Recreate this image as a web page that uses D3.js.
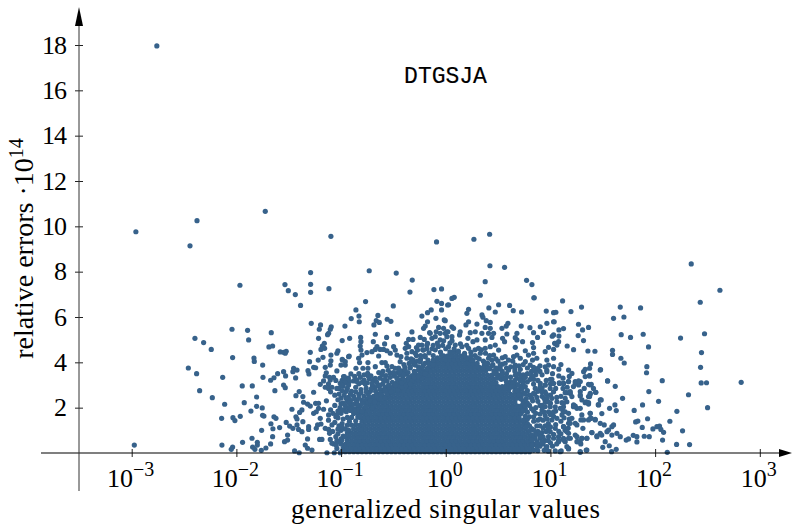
<!DOCTYPE html>
<html>
<head>
<meta charset="utf-8">
<script src="https://cdn.jsdelivr.net/npm/d3@7"></script>
<style>
body { margin: 0; background: #fff; }
text { font-family: "Liberation Serif", serif; fill: #000; }
</style>
</head>
<body>
<svg id="chart" width="792" height="525"></svg>
<script>
"use strict";

// all points are [log10(singular value), relative error * 1e14]
const outliers = [[-2.76,17.96],[-2.96,9.76],[-2.376,10.25],[-2.443,9.14],[-1.724,10.66],[-1.097,9.56],[-.088,9.31],[.269,9.43],[.419,9.65],[-1.291,7.96],[-.731,8.04],[-.473,7.94],[.422,8.26],[.562,8.19],[-1.536,7.43],[-1.504,7.16],[-1.291,7.44],[-1.291,7.09],[-1.437,6.99],[-1.116,7.25],[-.32,7.63],[.377,7.56],[.772,7.62],[-.113,7.21],[-.04,7.24],[2.345,8.34],[2.619,7.18],[2.431,6.65]];

const leftPoints = [[-2.975,.35],[-1.966,7.4],[-2.042,5.46],[-1.893,5.41],[-1.667,5.31],[-2.396,5.06],[-2.313,4.87],[-1.883,4.99],[-2.24,4.57],[-1.689,4.68],[-1.654,4.72],[-1.581,4.46],[-2.036,4.21],[-1.832,4.19],[-1.829,4.04],[-1.749,3.88],[-2.459,3.75],[-2.38,3.5],[-2.131,3.34],[-1.746,3.34],[-1.673,3.21],[-1.641,3.32],[-1.606,3.5],[-1.944,2.96],[-1.848,2.96],[-2.351,2.75],[-1.632,2.75],[-2.23,2.44],[-1.807,2.47],[-1.925,2.22],[-2.112,2.15],[-1.807,2.06],[-1.753,1.99],[-1.861,1.85],[-2.141,1.53],[-2.033,1.56],[-2.014,1.43],[-1.963,1.62],[-1.75,1.66],[-1.737,1.63],[-1.641,1.6],[-1.622,1.53],[-1.67,1.29],[-1.651,1.07],[-1.759,1],[-1.587,1.12],[-1.654,.72],[-1.851,.65],[-1.941,.47],[-1.8,.47],[-1.8,.35],[-2.138,.35],[-2.036,.26],[-2.049,.16],[-1.845,.26],[-1.823,.16],[-1.762,.12],[-1.718,.22],[-1.673,.4]];

const midLeftPoints = [[-1.387,6.51],[-1.285,5.72],[-1.196,5.65],[-1.208,5.46],[-1.094,5.57],[-1.103,5.46],[-1.119,5.28],[-1.129,5.22],[-.963,5.6],[-1.215,5.06],[-.989,4.96],[-.918,5.06],[-1.16,4.84],[-1.179,4.72],[-1.192,4.57],[-1.157,4.62],[-1.03,4.51],[-1.04,4.4],[-1.549,4.44],[-1.524,4.49],[-1.533,4.4],[-1.294,4.44],[-.928,4.25],[-1.173,4.22],[-1.218,4.1],[-1.301,4.03],[-1.097,4.32],[-1.097,4.07],[-.985,4.1],[-1.001,3.88],[-.96,3.88],[-1.103,3.88],[-1.262,3.78],[-1.243,3.76],[-1.151,3.78],[-1.453,3.74],[-1.421,3.66],[-1.46,3.59],[-1.316,3.63],[-1.307,3.49],[-1.549,3.59],[-1.53,3.4],[-1.434,3.31],[-1.141,3.54],[-1.04,3.62],[-1.072,3.34],[-1.11,3.34],[-1.151,3.4],[-.969,3.37],[-1.167,3.18],[-1.199,3.03],[-1.103,3.22],[-1.008,3.07],[-.96,3.1],[-1.151,2.9],[-1.119,2.85],[-1.087,2.9],[-1.04,2.85],[-.992,3],[-1.549,3],[-1.533,2.88],[-1.262,2.68],[-1.4,2.71],[-1.431,2.53],[-1.365,2.49],[-1.358,2.24],[-1.32,2.16],[-1.294,2.07],[-1.243,2.19],[-1.215,2.19],[-1.215,1.97],[-1.262,1.75],[-1.237,1.82],[-1.167,1.93],[-1.374,1.9],[-1.396,1.79],[-1.469,1.93],[-1.431,1.6],[-1.421,1.5],[-1.199,1.53],[-1.119,1.68],[-1.078,1.75],[-1.04,1.68],[-1.524,1.35],[-1.491,1.19],[-1.46,1.09],[-1.421,1.24],[-1.406,1.04],[-1.374,.94],[-1.365,1.38],[-1.31,1.16],[-1.31,1.04],[-1.237,1.09],[-1.224,1.24],[-1.192,1.28],[-1.151,1.09],[-1.119,1.04],[-1.11,.87],[-1.087,1.24],[-.992,1.16],[-.928,1.01],[-1.511,.79],[-1.54,.5],[-1.511,.57],[-1.32,.62],[-1.342,.35],[-1.32,.21],[-1.278,.13],[-1.444,.09],[-1.4,.01],[-1.205,.6],[-1.183,.6],[-1.103,.6],[-1.087,.43],[-1.046,.35],[-1.024,.5],[-.992,.57],[-.96,.72],[-1.135,.01],[-1.065,.01],[-1.008,.01]];

const domeLeftPoints = [[-.342,7.1],[-.766,6.68],[-.501,6.49],[-.858,6.31],[-.829,6.04],[-.903,5.93],[-.826,5.79],[-.648,6.07],[-.664,5.84],[-.686,5.65],[-.635,5.76],[-.559,5.9],[-.524,5.81],[-.673,5.24],[-.46,5.24],[-.323,5.34],[-.565,5.1],[-.228,6.04],[-.174,6.19],[-.139,6.31],[-.094,5.94],[-.084,6.69],[-.04,6.6],[.018,6.53],[-.04,6.31],[-.014,5.87],[-.174,5.79],[-.196,5.6],[-.212,5.5],[-.068,5.54],[-.091,5.35],[-.154,5.31],[-.021,5.5],[.011,5.35],[-.053,5.28],[-.813,5.1],[-.81,4.91],[-.817,4.72],[-.81,4.54],[-.692,4.91],[-.584,4.81],[-.498,4.69],[-.482,4.54],[-.354,5.01],[-.313,5.01],[-.377,4.84],[-.387,4.62],[-.243,5.1],[-.205,5.01],[-.174,4.84],[-.148,5.28],[-.26,4.76],[-.132,5.06],[-.1,5.13],[-.053,4.99],[.011,5.13],[-.354,4.69],[-.323,4.47],[-.291,4.4],[-.269,4.54],[-.371,4.4],[-.228,4.76],[-.212,4.54],[-.657,4.69],[-.626,4.57],[-.594,4.57],[-.562,4.51],[-.53,4.4],[-.466,4.32],[-.428,4.25],[-.673,4.57],[-.705,4.47],[-.753,4.43],[-.8,4.32],[-.832,4.18],[-.641,4.28],[-.922,4.28],[-.989,4.13],[-.96,4.03],[-.823,3.99],[-.743,3.99],[-.61,3.99],[-.578,3.99],[-.562,3.84],[-.514,3.81],[-.435,4.03],[-.323,4.03],[-.371,4.18],[-.858,3.74],[-.791,3.74],[-.743,3.74],[-.673,3.81],[-.906,3.49],[-.976,3.37],[-.746,3.51],[-.816,3.34],[-.715,3.4],[-.673,3.29],[-.61,3.44],[-.482,3.74],[-.435,3.59],[-.387,3.66],[-.339,3.81],[-.291,3.88],[-.243,4.03],[-.769,3.04],[-.848,3.15],[-.928,3],[-.594,3.22],[-.53,3.34],[-.466,3.29],[-.403,3.44],[-.355,3.34],[-.705,3.07],[-.626,3],[-.546,3],[-.482,3],[-.419,3.1],[-.339,3.04],[-.26,3.66],[-.218,3.84],[-.196,4.25]];

const domeRightPoints = [[.081,6.87],[.059,6.82],[.33,6.96],[.027,6.54],[.845,6.85],[.412,6.4],[.505,6.54],[.61,6.51],[.645,6.28],[.473,6.22],[.724,6.22],[.96,6.26],[.218,6.34],[.202,6.16],[.346,6.09],[.355,5.99],[-.005,5.84],[.387,5.84],[.425,5.76],[1.03,6.19],[.966,5.72],[1.03,5.79],[.218,5.79],[.193,5.65],[.298,5.69],[.059,5.57],[.075,5.5],[.594,5.72],[.578,5.6],[.721,5.6],[.804,5.53],[.903,5.57],[.377,5.54],[.425,5.5],[.537,5.5],[.138,5.35],[.132,5.21],[.021,5.35],[-.005,5.28],[.234,5.31],[.282,5.35],[.345,5.28],[.409,5.28],[.457,5.28],[.584,5.25],[.68,5.28],[.839,5.31],[.934,5.32],[.441,5.1],[.543,5.06],[.664,5.09],[.877,5.1],[1.03,5.21],[.562,4.91],[.68,4.99],[.734,4.91],[.212,5.06],[.059,5.13],[.298,4.99],[.377,4.99],[.26,4.91],[.829,4.87],[1.04,4.84],[.664,4.66],[.473,4.76],[.982,4.66],[1.03,4.57],[.839,4.65],[.76,4.51],[.95,4.47],[.839,4.4],[.79,4.32],[.68,4.32],[.648,4.25],[.568,4.25],[.505,4.54],[.425,4.69],[.377,4.62],[.313,4.62],[.218,4.62],[.154,4.69],[.091,4.76],[.027,4.69],[.457,4.32],[.409,4.18],[.52,3.88],[.568,3.96],[.712,4.18],[.76,4.03],[.829,4.1],[.87,4.18],[.966,4.1],[1.03,4.18],[.982,3.88],[1.03,3.81],[.807,3.88],[.839,3.78],[.88,3.74],[.664,3.88],[.712,3.69],[.6,3.66],[.966,3.59],[.76,3.34],[.712,3.19],[.807,3.25],[.839,3.04],[.693,3],[.95,3],[1,3.25],[1.03,3.07],[.903,2.93],[.632,2.93],[.568,2.85],[.76,2.93],[.664,3.44],[.537,3.44],[.473,3.51]];

const flankRightPoints = [[.965,3.66],[1.014,3.25],[1.087,3.07],[1.125,3.07],[1.173,3.15],[1.205,3.51],[1.173,3.66],[1.317,3.59],[1.374,3.4],[1.476,3.66],[1.285,3.15],[1.269,3],[1.237,3.07],[1.22,2.93],[1.38,3],[1.411,2.85],[1.546,3.18],[1.157,2.66],[1.19,2.63],[1.205,2.49],[1.141,2.41],[1.285,2.71],[1.285,2.51],[1.38,2.6],[1.434,2.68],[1.364,2.49],[1.476,2.34],[1.46,2.12],[1.342,2.26],[1.364,2.16],[1.22,2.04],[1.253,1.97],[1.285,1.97],[1.125,2.04],[1.03,2.7],[.998,2.85],[.95,3],[.903,3.07],[.855,2.85],[.839,2.63],[.918,2.7],[.966,2.41],[1.014,2.41],[1.062,2.26],[1.11,2.22],[.998,2.04],[.982,1.82],[1.046,2.04],[1.03,1.82],[1.094,1.97],[1.141,1.82],[1.173,1.75],[1.11,1.68],[1.062,1.53],[1.014,1.46],[1.205,1.53],[1.38,1.75],[1.38,1.53],[1.428,1.46],[1.565,1.97],[1.3,1.68],[1.316,1.46],[1.253,1.24],[1.173,1.31],[1.125,1.16],[1.046,1.09],[.998,.94],[.982,.72],[1.03,.65],[1.078,.72],[1.078,.5],[1.125,.65],[1.173,.87],[1.19,.65],[1.237,.79],[1.3,.65],[1.348,.65],[1.396,.9],[1.444,.76],[1.49,.79],[1.26,.5],[1.29,.4],[1.141,.5],[1.173,.18],[1.103,.09],[1.046,.09],[.966,.28],[.918,.5],[.903,.72],[.871,.28],[.824,.35],[1.285,.06],[1.348,.13]];

const rightPoints = [[1.861,6.4],[1.667,6.44],[1.297,6.44],[1.116,6.71],[.823,7.43],[.842,6.85],[1.052,6.21],[1.196,6.24],[1.603,5.94],[1.702,6],[1.268,5.68],[1.036,5.79],[1.307,5.43],[1.364,5.54],[1.125,5.49],[1.081,5.43],[1.017,5.15],[1.081,5.16],[1.265,5.18],[1.316,4.96],[1.676,5.22],[1.765,5.1],[1.886,5.24],[2.243,5.07],[2.472,5.26],[1.937,4.68],[1.16,4.72],[1.078,4.91],[1.046,4.84],[1.062,4.76],[1.221,4.56],[1.358,4.5],[1.425,4.49],[1.593,4.53],[1.593,4.35],[2.443,4.43],[1.673,4.18],[1.705,3.97],[1.921,3.81],[1.918,3.54],[2.434,3.78],[2.068,3.19],[2.44,3.09],[2.491,3.1],[2.822,3.12],[1.546,3.18],[1.619,2.94],[1.94,2.71],[1.689,2.41],[2.319,2.57],[2.033,2.28],[1.88,2.12],[1.616,2.12],[1.629,1.87],[1.8,1.88],[2.501,2],[2.208,1.84],[1.491,1.74],[1.485,2.34],[1.457,2.13],[1.431,2.68],[1.479,3.68],[1.383,3.93],[1.374,3.74],[1.332,3.69],[1.374,3.41],[1.332,3.37],[1.39,3.03],[1.364,3.03],[1.323,2.85],[1.269,3.18],[1.237,3.15],[1.173,3.15],[1.125,3.07],[1.084,3.1],[1.38,2.63],[1.374,2.49],[1.285,2.56],[1.189,2.71],[1.141,2.66],[1.332,2.22],[1.364,2.22],[1.301,2.34],[1.237,2.07],[1.221,2.12],[1.157,2.26],[1.125,2.19],[1.38,1.75],[1.39,1.53],[1.428,1.49],[1.364,1.46],[1.476,1.31],[1.514,1.24],[1.555,1.01],[1.587,1.16],[1.603,1.24],[1.54,.94],[1.635,.87],[1.667,.72],[1.587,.79],[1.476,.87],[1.444,.72],[1.396,.9],[1.348,.65],[1.301,.65],[1.285,.5],[1.253,.5],[1.253,.72],[1.173,.65],[1.157,.94],[1.125,.57],[1.078,.57],[1.31,1.09],[1.291,1.46],[1.237,1.31],[1.189,1.31],[1.125,1.16],[1.523,.5],[1.5,.25],[1.562,.32],[1.628,.16],[1.584,.06],[1.342,.13],[1.285,.03],[1.173,.2],[1.157,.28],[1.093,.06],[1.724,.57],[1.746,.62],[1.791,.78],[1.826,.72],[1.826,.49],[1.877,1.13],[1.814,1.37],[1.835,1.41],[1.928,1.51],[1.896,.74],[1.944,.72],[1.979,1.06],[2.017,1.16],[2.042,1.19],[2.055,1.04],[2.081,.91],[2.141,1.4],[2.071,.57],[2.262,.98],[2.205,.38],[2.329,.37],[2.116,.03]];

// Clumped edge of the cloud: points overlap a lot here, so these are estimates of
// where the clumps lie rather than clean readings.
const shellLeft = [[-.99,3.2],[-.93,3.3],[-.88,3.18],[-.83,3.05],[-.78,3.22],[-.73,3.28],[-.66,3.12],[-.6,3.05],[-.56,3.18],[-.51,3.12],[-.44,3.22],[-.38,3.2],[-.98,2.95],[-.94,2.85],[-.9,2.72],[-.86,2.9],[-.81,2.8],[-.76,2.86],[-.72,2.72],[-.68,2.88],[-.63,2.82],[-.58,2.9],[-.54,2.85],[-.46,2.9],[-.4,2.85],[-1.02,2.6],[-.97,2.55],[-.93,2.45],[-.88,2.5],[-.83,2.58],[-.78,2.5],[-.74,2.6],[-.69,2.5],[-.65,2.6],[-.6,2.5],[-1.03,2.35],[-.98,2.2],[-.94,2.28],[-.9,2.12],[-.85,2.28],[-.8,2.32],[-.75,2.38],[-.7,2.3],[-.66,2.2],[-1.06,2.1],[-1.01,2],[-.97,1.92],[-.93,2],[-.88,1.95],[-.82,2.05],[-.78,1.98],[-.72,2.12],[-1.05,1.6],[-1,1.75],[-.98,1.5],[-.99,1.3],[-1.02,1.2],[-1,1],[-1.03,.85],[-.98,.75],[-1.05,.72],[-1,.4],[-1.04,.2],[-.99,.08],[-1.08,.95],[-1.12,1.45],[-1.1,1.9],[-1.14,2.3],[-1.06,2.55],[-1.1,2.7],[-1.02,2.85],[-1.05,3.2],[-1.12,3.05],
[-.42,3.62],[-.39,3.78],[-.35,3.95],[-.31,4.1],[-.27,4.05],[-.24,3.72],[-.29,3.48],[-.34,3.32],[-.38,3.5],[-.41,3.35],[-.46,3.55],[-.49,3.4],[-.53,3.52],[-.57,3.42],[-.6,3.6],[-.64,3.55],[-.58,3.25],[-.63,3.3],[-.69,3.2],[-.74,3.4],[-.78,3.45],[-.83,3.5],[-.87,3.38],[-.92,3.15],[-.96,3.25],[-.85,3.22],[-.8,3.12],[-.75,3.1],[-.7,2.98],[-.65,2.98],[-.59,2.72],[-.55,2.68],[-.5,2.78],[-.47,3.1],[-.43,3.05],[-.36,3.05],[-.33,3.18],[-.3,3.25],[-.26,3.2],[-.23,3.3],[-.56,2.52],[-.62,2.66],[-.67,2.72],[-.71,2.84],[-.76,2.7],[-.81,2.65],[-.86,2.7],[-.91,2.6],[-.95,2.72],[-.99,2.75],[-1,2.42],[-.95,2.4],[-.91,2.32],[-.87,2.38],[-.83,2.42],[-.78,2.28],[-.73,2.46],[-.68,2.4],[-.64,2.4],[-.92,2.2],[-.96,2.1],[-1,2.18],[-.88,2.15],[-.84,2.12],[-.8,2.18],[-.74,2.2],[-.95,1.82],[-.91,1.88],[-.87,1.85],[-.83,1.9],[-.99,1.88],[-1.03,1.85],[-1.03,1.55],[-1.06,1.35],[-1.03,1.05],[-1,.62],[-1.04,.55],[-1.07,.4]];
const shellTop = [[-.36,3.55],[-.32,3.42],[-.3,3.6],[-.27,3.35],[-.24,3.5],[-.34,3.75],[-.3,3.92],[-.26,3.8],[-.22,3.65],[-.2,3.95],[-.17,4.1],[-.15,3.85],[-.24,4.15],[-.2,4.3],[-.16,4.42],[-.12,4.3],[-.1,4.55],[-.07,4.7],[-.13,4.6],[-.18,4.6],[-.03,4.75],[0,4.6],[-.05,4.45],[-.28,4.3],[-.33,4.15],[-.4,3.9],[-.45,3.75],[-.5,3.55],[-.44,3.45],[-.55,3.65],[.04,4.85],[.08,4.6],[.12,4.5],[.18,4.4],[.24,4.45],[.28,4.3],[.33,4.4],[.2,4.2],[.26,4.1],[.32,4.15],[.36,4.05],[.4,3.95],[.45,3.9],[.44,4.1],[.5,4.05],[.37,3.9],[.5,3.7],[.54,3.6],[.48,3.55],[.58,3.5],[.62,3.35],[.66,3.62],[.57,3.25],[.62,3.15],[.68,3.02],[.72,2.95],
[-.08,4.85],[-.02,4.95],[.06,4.95],[.14,4.82],[.2,4.75],[.28,4.55],[.34,4.55],[.38,4.4],[.42,4.3],[.48,4.15],[.54,4.2],[.6,4.1],[.64,4.05],[-.12,4.75],[-.18,4.75],[-.22,4.55],[-.28,4.65],[-.24,4.3]];
const shellRight = [[.74,3.1],[.78,3.14],[.84,3.25],[.86,3.45],[.9,3.6],[.88,3.2],[.78,2.75],[.74,2.65],[.8,2.55],[.77,2.4],[.83,2.3],[.87,2.45],[.92,2.5],[.95,2.25],[.9,2.1],[.86,2],[.8,2.1],[.76,1.95],[.78,1.8],[.84,1.85],[.92,1.9],[.95,1.65],[.9,1.5],[.84,1.4],[.87,1.2],[.93,1.1],[.98,1.3],[.82,1.08],[.78,1.3],[.92,.9],[.88,.95],[.95,.55],[.85,.65],[.87,.5],[.84,.12],[.88,.1],[.9,.3],[.94,.12],[.98,.08],[1.02,.3],[1.06,.4],[1,.45],[1.03,.82],[1.1,.85],[1.14,1],[1.08,.95],[1.17,1.1],[1,1.15],[1.05,1.25],[.97,1.5],[1.1,1.4],[1.03,1.62],[1.18,1.5],[1.13,1.55],[1,1.7],[1.05,1.85],[1.12,1.85],[1,2.2],[1.06,2.45],[1.1,2.5],[1,2.55],[.95,2.7],[1.05,2.85],[1.12,2.85],[1.16,2.9],[.9,2.85],[1,3.05],[.96,3.2],[1.08,3.4],[1.12,3.3],[1.18,3.38],[1.02,3.5],[1.08,3.7],[.92,3.45],[.95,3.8],[1.1,3.9],[.9,3.85],
[.4,3.75],[.44,3.85],[.48,3.75],[.52,3.75],[.36,3.75],[.54,3.92],[.58,3.75],[.62,3.8],[.66,3.75],[.7,3.85],[.74,3.9],[.78,3.75],[.82,3.6],[.86,3.62],[.7,3.5],[.74,3.45],[.78,3.5],[.82,3.42],[.58,3.35],[.53,3.25],[.49,3.3],[.68,3.3],[.72,3.35],[.66,3.2],[.74,3.25],[.6,3.05],[.64,3.05],[.58,3],[.66,2.88],[.7,2.8],[.73,2.85],[.76,2.6],[.7,2.65],[.72,2.5],[.78,2.2],[.75,2.3],[.82,2.42],[.85,2.6],[.88,2.72],[.92,2.85],[.96,2.6],[.94,2.4],[.98,2.25],[.88,2.28],[.92,2.1],[.95,2.05],[.82,1.95],[.86,1.75],[.9,1.72],[.94,1.8],[.8,1.6],[.84,1.6],[.88,1.45],[.93,1.45],[.78,1.5],[.8,1.2],[.84,1.02],[.9,1.2],[.95,1.2],[.98,1.12],[.96,.95],[.9,.85],[.86,.8],[.9,.65],[.93,.7],[.98,.55],[.88,.4],[.93,.4],[.96,.25]];
const shellEdge = [[-.86,1.42],[-.84,1.6],[-.86,1.25],[-.8,1.75],[-.82,1.62],[-.74,1.9],[-.8,1.85],[-.76,2.05],[-.68,2.08],[-.7,1.98],[-.72,2.3],[-.68,2.25],[-.62,2.4],[-.66,2.5],[-.58,2.42],[-.62,2.58],[-.56,2.62],[-.58,2.76],[-.52,2.7],[-.54,2.92],[-.46,2.78],[-.44,2.95],[-.48,2.98],[-.42,2.92],[-.38,2.98],[-.36,3.12],[-.4,3.2],[-.32,3.18],[-.3,3.35],[-.26,3.38],[-.24,3.6],[-.2,3.5],[-.18,3.72],[-.16,3.95],[-.12,3.9],[-.12,4.1],[-.08,4.2],[-.04,4.3],[.38,3.98],[.42,3.72],[.46,3.62],[.5,3.45],[.53,3.4],[.56,3.3],[.58,3.15],[.6,2.95],[.62,2.9],[.66,2.72],[.68,2.78],[.7,2.55],[.72,2.38],[.74,2.15],[.76,2.08],[.74,1.85],[.76,1.62],[.74,1.45],[.77,1.15],[.8,.98],[.82,.8],[.84,.65],[.82,.58],[.3,4.2],[.24,4.28],[.18,4.3]];

// The middle of the cloud is solid colour, so single points cannot be told apart
// there. These rows are estimates that cover the solid area, not individual readings.
const coreErrors = [.06,.22,.38,.55,.72,.89,1.06,1.23,1.4,1.57,1.74,1.91,2.08,2.25,2.42,2.59,2.76,2.93,3.1,3.27,3.44,3.61,3.78,3.95,4.12,4.29,4.46];
const coreExponents = [
[-.96,-.92,-.88,-.84,-.8,-.76,-.72,-.68,-.64,-.6,-.56,-.52,-.48,-.44,-.4,-.36,-.32,-.28,-.24,-.2,-.16,-.12,-.08,-.04,0,.04,.08,.12,.16,.2,.24,.28,.32,.36,.4,.44,.48,.52,.56,.6,.64,.68,.72,.76,.8],
[-.98,-.94,-.9,-.86,-.82,-.78,-.74,-.7,-.66,-.62,-.58,-.54,-.5,-.46,-.42,-.38,-.34,-.3,-.26,-.22,-.18,-.14,-.1,-.06,-.02,.02,.06,.1,.14,.18,.22,.26,.3,.34,.38,.42,.46,.5,.54,.58,.62,.66,.7,.74,.78,.82],
[-.96,-.92,-.88,-.84,-.8,-.76,-.72,-.68,-.64,-.6,-.56,-.52,-.48,-.44,-.4,-.36,-.32,-.28,-.24,-.2,-.16,-.12,-.08,-.04,0,.04,.08,.12,.16,.2,.24,.28,.32,.36,.4,.44,.48,.52,.56,.6,.64,.68,.72,.76,.8,.84],
[-.94,-.9,-.86,-.82,-.78,-.74,-.7,-.66,-.62,-.58,-.54,-.5,-.46,-.42,-.38,-.34,-.3,-.26,-.22,-.18,-.14,-.1,-.06,-.02,.02,.06,.1,.14,.18,.22,.26,.3,.34,.38,.42,.46,.5,.54,.58,.62,.66,.7,.74,.78,.82],
[-.92,-.88,-.84,-.8,-.76,-.72,-.68,-.64,-.6,-.56,-.52,-.48,-.44,-.4,-.36,-.32,-.28,-.24,-.2,-.16,-.12,-.08,-.04,0,.04,.08,.12,.16,.2,.24,.28,.32,.36,.4,.44,.48,.52,.56,.6,.64,.68,.72,.76,.8],
[-.94,-.9,-.86,-.82,-.78,-.74,-.7,-.66,-.62,-.58,-.54,-.5,-.46,-.42,-.38,-.34,-.3,-.26,-.22,-.18,-.14,-.1,-.06,-.02,.02,.06,.1,.14,.18,.22,.26,.3,.34,.38,.42,.46,.5,.54,.58,.62,.66,.7,.74,.78,.86],
[-.96,-.88,-.84,-.8,-.76,-.72,-.68,-.64,-.6,-.56,-.52,-.48,-.44,-.4,-.36,-.32,-.28,-.24,-.2,-.16,-.12,-.08,-.04,0,.04,.08,.12,.16,.2,.24,.28,.32,.36,.4,.44,.48,.52,.56,.6,.64,.68,.72,.76],
[-.94,-.9,-.82,-.78,-.74,-.7,-.66,-.62,-.58,-.54,-.5,-.46,-.42,-.38,-.34,-.3,-.26,-.22,-.18,-.14,-.1,-.06,-.02,.02,.06,.1,.14,.18,.22,.26,.3,.34,.38,.42,.46,.5,.54,.58,.62,.66,.7,.74],
[-.92,-.8,-.76,-.72,-.68,-.64,-.6,-.56,-.52,-.48,-.44,-.4,-.36,-.32,-.28,-.24,-.2,-.16,-.12,-.08,-.04,0,.04,.08,.12,.16,.2,.24,.28,.32,.36,.4,.44,.48,.52,.56,.6,.64,.68,.72,.76],
[-.94,-.9,-.82,-.78,-.74,-.7,-.66,-.62,-.58,-.54,-.5,-.46,-.42,-.38,-.34,-.3,-.26,-.22,-.18,-.14,-.1,-.06,-.02,.02,.06,.1,.14,.18,.22,.26,.3,.34,.38,.42,.46,.5,.54,.58,.62,.66,.7],
[-.88,-.84,-.76,-.72,-.68,-.64,-.6,-.56,-.52,-.48,-.44,-.4,-.36,-.32,-.28,-.24,-.2,-.16,-.12,-.08,-.04,0,.04,.08,.12,.16,.2,.24,.28,.32,.36,.4,.44,.48,.52,.56,.6,.64,.68,.72],
[-.9,-.86,-.78,-.7,-.66,-.62,-.58,-.54,-.5,-.46,-.42,-.38,-.34,-.3,-.26,-.22,-.18,-.14,-.1,-.06,-.02,.02,.06,.1,.14,.18,.22,.26,.3,.34,.38,.42,.46,.5,.54,.58,.62,.66,.7,.74],
[-.84,-.76,-.72,-.64,-.6,-.56,-.52,-.48,-.44,-.4,-.36,-.32,-.28,-.24,-.2,-.16,-.12,-.08,-.04,0,.04,.08,.12,.16,.2,.24,.28,.32,.36,.4,.44,.48,.52,.56,.6,.64,.68,.72],
[-.78,-.7,-.66,-.62,-.58,-.54,-.5,-.46,-.42,-.38,-.34,-.3,-.26,-.22,-.18,-.14,-.1,-.06,-.02,.02,.06,.1,.14,.18,.22,.26,.3,.34,.38,.42,.46,.5,.54,.58,.62,.66,.74],
[-.72,-.64,-.6,-.56,-.52,-.48,-.44,-.4,-.36,-.32,-.28,-.24,-.2,-.16,-.12,-.08,-.04,0,.04,.08,.12,.16,.2,.24,.28,.32,.36,.4,.44,.48,.52,.56,.6,.64,.68],
[-.66,-.62,-.54,-.5,-.46,-.42,-.38,-.34,-.3,-.26,-.22,-.18,-.14,-.1,-.06,-.02,.02,.06,.1,.14,.18,.22,.26,.3,.34,.38,.42,.46,.5,.54,.58,.62,.66],
[-.6,-.52,-.48,-.44,-.4,-.36,-.32,-.28,-.24,-.2,-.16,-.12,-.08,-.04,0,.04,.08,.12,.16,.2,.24,.28,.32,.36,.4,.44,.48,.52,.56,.6],
[-.5,-.42,-.38,-.34,-.3,-.26,-.22,-.18,-.14,-.1,-.06,-.02,.02,.06,.1,.14,.18,.22,.26,.3,.34,.38,.42,.46,.5,.54],
[-.4,-.36,-.32,-.28,-.24,-.2,-.16,-.12,-.08,-.04,0,.04,.08,.12,.16,.2,.24,.28,.32,.36,.4,.44,.48],
[-.34,-.3,-.26,-.22,-.18,-.14,-.1,-.06,-.02,.02,.06,.1,.14,.18,.22,.26,.3,.34,.38,.42,.46],
[-.28,-.24,-.2,-.16,-.12,-.08,-.04,0,.04,.08,.12,.16,.2,.24,.28,.32,.36,.4,.44],
[-.22,-.18,-.14,-.1,-.06,-.02,.02,.06,.1,.14,.18,.22,.26,.3,.34,.38],
[-.16,-.12,-.08,-.04,0,.04,.08,.12,.16,.2,.24,.28,.32,.36],
[-.14,-.1,-.06,-.02,.02,.06,.1,.14,.18,.22,.26,.3],
[-.08,-.04,0,.04,.08,.12,.16,.2,.24],
[-.02,.02,.06,.1,.14,.18],
[.04,.08,.12]
];

const xTickExponents = [-3, -2, -1, 0, 1, 2, 3];
const yTickValues = [2, 4, 6, 8, 10, 12, 14, 16, 18];
const xLabel = "generalized singular values";
const yLabel = "relative errors \u00b710";
const yLabelPower = "14";
const title = "DTGSJA";

const svg = d3.select("#chart");
const dotColor = "#37628b";

const x = d3.scaleLog().domain([1e-3, 1e3]).range([131.7, 759.8]);
const y = d3.scaleLinear().domain([0, 18]).range([453, 45]);

const corePoints = coreErrors.flatMap((err, i) => coreExponents[i].map(e => [e, err]));
const points = [].concat(corePoints, shellLeft, shellTop, shellRight, shellEdge, outliers, leftPoints, midLeftPoints, domeLeftPoints, domeRightPoints, flankRightPoints, rightPoints);

svg.append("g").selectAll("circle")
    .data(points)
    .enter()
    .append("circle")
    .attr("cx", d => x(Math.pow(10, d[0])))
    .attr("cy", d => y(d[1]))
    .attr("r", 2.6)
    .style("fill", dotColor);

// x axis, ticks cross the line
const xAxis = svg.append("g")
    .attr("transform", "translate(0," + y(0) + ")")
    .call(d3.axisBottom(x).tickValues(xTickExponents.map(e => Math.pow(10, e))).tickFormat("").tickSizeOuter(0));
xAxis.select(".domain").remove();
xAxis.selectAll(".tick line").attr("y1", -4).attr("y2", 4).style("stroke", "#222");

// y axis
const yAxis = svg.append("g")
    .attr("transform", "translate(79,0)")
    .call(d3.axisLeft(y).tickValues(yTickValues).tickFormat("").tickSizeOuter(0));
yAxis.select(".domain").remove();
yAxis.selectAll(".tick line").attr("x1", -4).attr("x2", 4).style("stroke", "#222");

svg.append("line").attr("x1", 41).attr("x2", 782).attr("y1", y(0)).attr("y2", y(0))
    .style("stroke", "#000").style("stroke-width", 1.2);
svg.append("line").attr("x1", 79).attr("x2", 79).attr("y1", 491).attr("y2", 20)
    .style("stroke", "#333").style("stroke-width", 1);

// arrow heads
svg.append("path").attr("d", "M792,453 L779,449 L779,457 Z").style("fill", "#000");
svg.append("path").attr("d", "M79,7 L75,26 L83,26 Z").style("fill", "#000");

// tick labels
const xLabels = svg.append("g").selectAll("text")
    .data(xTickExponents)
    .enter()
    .append("text")
    .attr("x", d => x(Math.pow(10, d)) - 1)
    .attr("y", 487)
    .attr("text-anchor", "middle")
    .style("font-size", "26px");
xLabels.append("tspan").text("10");
xLabels.append("tspan")
    .attr("dy", -11)
    .style("font-size", "20px")
    .text(d => d < 0 ? "\u2212" + Math.abs(d) : d);

svg.append("g").selectAll("text")
    .data(yTickValues)
    .enter()
    .append("text")
    .attr("x", 66)
    .attr("y", d => y(d) + 8.5)
    .attr("text-anchor", "end")
    .style("font-size", "26px")
    .style("letter-spacing", "-1px")
    .text(d => d);

svg.append("text")
    .attr("x", 445.5)
    .attr("y", 518)
    .attr("text-anchor", "middle")
    .attr("textLength", 309)
    .style("font-size", "27px")
    .text(xLabel);

const yTitle = svg.append("text")
    .attr("transform", "translate(33,248.5) rotate(-90)")
    .attr("text-anchor", "middle")
    .style("font-size", "28px");
yTitle.append("tspan").text(yLabel);
yTitle.append("tspan").attr("dy", -10).style("font-size", "20px").text(yLabelPower);

svg.append("text")
    .attr("x", 445.5)
    .attr("y", 83)
    .attr("text-anchor", "middle")
    .style("font-family", "'Liberation Mono', monospace")
    .style("font-size", "23px")
    .style("stroke", "#000")
    .style("stroke-width", 0.15)
    .text(title);
</script>
</body>
</html>
